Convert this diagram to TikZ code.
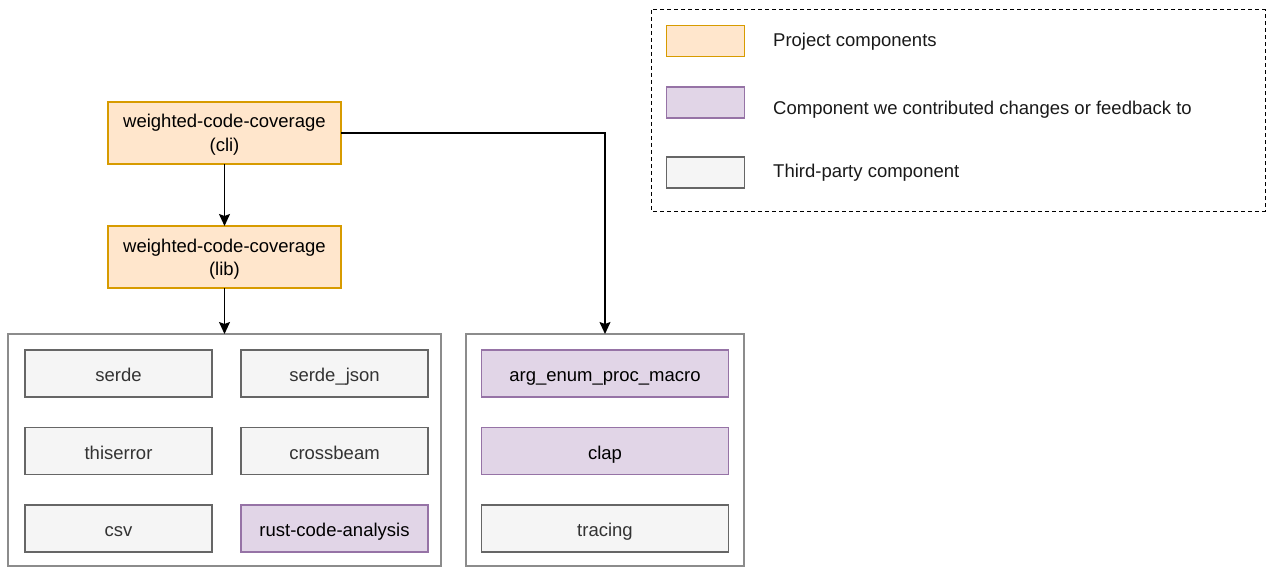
\documentclass[tikz,border=0pt]{standalone}
\usepackage{fontspec}
\setmainfont{Liberation Sans}
\usetikzlibrary{arrows.meta}
\definecolor{orfill}{HTML}{FFE6CC}
\definecolor{ordraw}{HTML}{D79B00}
\definecolor{pufill}{HTML}{E1D5E7}
\definecolor{pudraw}{HTML}{9673A6}
\definecolor{grfill}{HTML}{F5F5F5}
\definecolor{grdraw}{HTML}{666666}
\definecolor{grtext}{HTML}{333333}
\definecolor{contdraw}{HTML}{8C8C8C}
\tikzset{
  box/.style={rectangle, inner sep=0pt, outer sep=0pt, line width=1.2pt, align=center,
    font=\fontsize{18.5}{23.5}\selectfont},
  proj/.style={box, draw=ordraw, fill=orfill, text=black, minimum width=233pt, minimum height=62pt,
    text height=42pt, text depth=5pt},
  contrib/.style={box, draw=pudraw, fill=pufill, text=black, text height=17pt, text depth=1pt},
  third/.style={box, draw=grdraw, fill=grfill, text=grtext, text height=17pt, text depth=1pt},
  inner/.style={minimum width=187pt, minimum height=47pt},
  innerr/.style={minimum width=247pt, minimum height=47pt},
  swatch/.style={minimum width=78pt, minimum height=31pt},
  container/.style={rectangle, draw=contdraw, line width=1.2pt, inner sep=0pt, outer sep=0pt},
  legtext/.style={anchor=west, inner sep=0pt, font=\fontsize{18.5}{22}\selectfont, text={black!90},
    text height=17pt, text depth=1pt},
  conn/.style={line width=1.5pt, -{Stealth[length=12pt, width=11pt, inset=2pt]}},
}
\begin{document}
\begin{tikzpicture}[x=1pt, y=-1pt]
\useasboundingbox (0,0) rectangle (1267,567);
% legend
\draw[dashed, line width=1pt, dash pattern=on 4pt off 3pt] (651,10) rectangle (1265,211);
\node[box, draw=ordraw, fill=orfill, swatch] (sw1) at (705.5,41) {};
\node[box, draw=pudraw, fill=pufill, swatch] (sw2) at (705.5,102.5) {};
\node[box, draw=grdraw, fill=grfill, swatch] (sw3) at (705.5,172.5) {};
\node[legtext] (l1) at (773,38.5) {Project components};
\node[legtext] (l2) at (773,107) {Component we contributed changes or feedback to};
\node[legtext] (l3) at (773,170) {Third-party component};
% project nodes
\node[proj] (cli) at (224.5,133) {weighted-code-coverage\\(cli)};
\node[proj] (lib) at (224.5,257) {weighted-code-coverage\\(lib)};
% containers
\node[container, minimum width=433pt, minimum height=232pt] (left) at (224.5,450) {};
\node[container, minimum width=278pt, minimum height=232pt] (right) at (605,450) {};
% left inner
\node[third, inner] (serde) at (118.5,373.5) {serde};
\node[third, inner] (serdejson) at (334.5,373.5) {serde\_json};
\node[third, inner] (thiserror) at (118.5,451) {thiserror};
\node[third, inner] (crossbeam) at (334.5,451) {crossbeam};
\node[third, inner] (csv) at (118.5,528.5) {csv};
\node[contrib, inner] (rca) at (334.5,528.5) {rust-code-analysis};
% right inner
\node[contrib, innerr] (argenum) at (605,373.5) {arg\_enum\_proc\_macro};
\node[contrib, innerr] (clap) at (605,451) {clap};
\node[third, innerr] (tracing) at (605,528.5) {tracing};
% connectors
\draw[conn] (cli) -- (lib);
\draw[conn] (lib) -- (left);
\draw[conn] (cli.east) -| (right.north);
\end{tikzpicture}
\end{document}
